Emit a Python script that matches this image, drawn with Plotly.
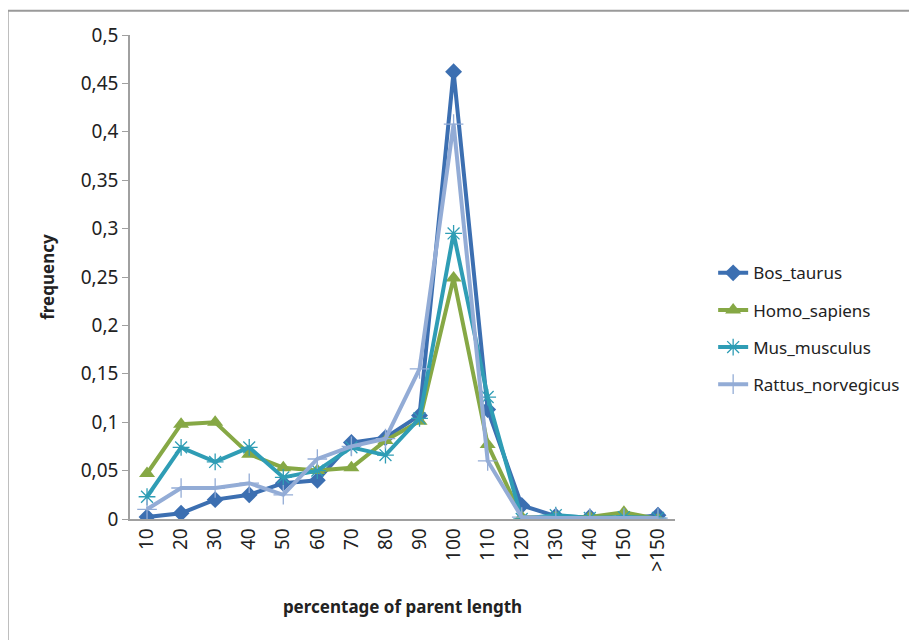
import plotly.graph_objects as go

categories = ["10", "20", "30", "40", "50", "60", "70", "80", "90", "100", "110", "120", "130", "140", "150", ">150"]
bos_taurus = [0.002, 0.006, 0.020, 0.025, 0.037, 0.040, 0.079, 0.084, 0.107, 0.462, 0.113, 0.014, 0.003, 0.002, 0.000, 0.004]
homo_sapiens = [0.047, 0.098, 0.100, 0.067, 0.053, 0.050, 0.053, 0.081, 0.101, 0.249, 0.077, 0.002, 0.002, 0.002, 0.007, 0.000]
mus_musculus = [0.023, 0.074, 0.059, 0.074, 0.043, 0.050, 0.074, 0.066, 0.104, 0.295, 0.126, 0.000, 0.004, 0.001, 0.002, 0.001]
rattus_norvegicus = [0.010, 0.032, 0.032, 0.037, 0.025, 0.062, 0.075, 0.083, 0.155, 0.408, 0.060, 0.002, 0.001, 0.001, 0.001, 0.001]
y_ticks = [0, 0.05, 0.1, 0.15, 0.2, 0.25, 0.3, 0.35, 0.4, 0.45, 0.5]
y_tick_labels = ["0", "0,05", "0,1", "0,15", "0,2", "0,25", "0,3", "0,35", "0,4", "0,45", "0,5"]

series = [
    ("Bos_taurus", bos_taurus, "#3c6fb1", dict(symbol="diamond", size=13)),
    ("Homo_sapiens", homo_sapiens, "#86a845", dict(symbol="triangle-up", size=14)),
    ("Mus_musculus", mus_musculus, "#2f9db5", dict(symbol="asterisk-open", size=14, line=dict(width=1.3, color="#6cc3dc"))),
    ("Rattus_norvegicus", rattus_norvegicus, "#93acd6", dict(symbol="cross-thin-open", size=14, line=dict(width=1.3, color="#93acd6"))),
]

fig = go.Figure()
for i, (name, vals, color, marker) in enumerate(series):
    m = dict(color=color, **marker)
    fig.add_trace(go.Scatter(
        x=categories, y=vals, name=name, mode="lines+markers",
        line=dict(color=color, width=4), marker=m, legendgroup=name,
    ))

font = "Noto Sans, Open Sans, sans-serif"
fig.update_layout(
    width=909, height=632,
    margin=dict(l=122, r=242, t=27, b=121),
    paper_bgcolor="white", plot_bgcolor="white",
    separators=", ",
    font=dict(family=font, size=17, color="#222"),
    showlegend=True,
    legend=dict(x=1.07, y=0.393, xanchor="left", yanchor="middle",
                font=dict(size=17, color="#222"), tracegroupgap=12,
                bgcolor="rgba(0,0,0,0)"),
    xaxis=dict(
        type="category", tickangle=-90, showgrid=False,
        showline=True, linecolor="#a0a0a0", linewidth=1.5,
        ticks="", tickfont=dict(size=19), range=[-0.5, 15.5],
        title=dict(text="<b>percentage of parent length</b>", font=dict(size=17), standoff=30),
    ),
    yaxis=dict(
        range=[0, 0.5], tickvals=y_ticks, ticktext=y_tick_labels,
        showgrid=False, showline=True, linecolor="#a0a0a0", linewidth=1.5,
        ticks="outside", ticklen=6, tickcolor="#a0a0a0", tickfont=dict(size=19),
        zeroline=False,
        title=dict(text="<b>frequency</b>", font=dict(size=17), standoff=22),
    ),
    shapes=[
        dict(type="line", xref="paper", yref="paper", x0=-0.2245, x1=1.6, y0=1.05, y1=1.05,
             line=dict(color="#9a9a9a", width=2)),
        dict(type="line", xref="paper", yref="paper", x0=-0.2245, x1=-0.2245, y0=1.05, y1=-0.3,
             line=dict(color="#9a9a9a", width=2)),
    ],
)

fig.write_html("out.html")
